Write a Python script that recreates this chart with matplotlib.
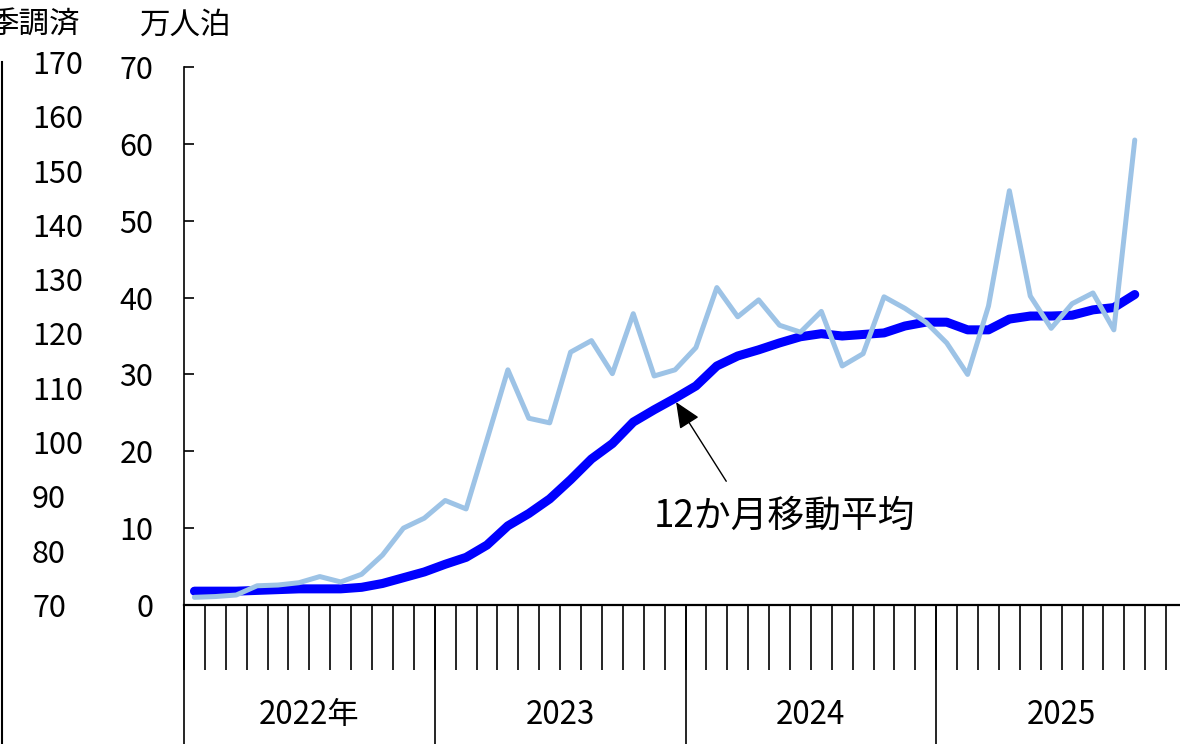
import numpy as np
import matplotlib
matplotlib.use('Agg')
import matplotlib.pyplot as plt
import matplotlib.transforms as mtransforms

plt.rcParams['font.family'] = ['Noto Sans CJK JP', 'DejaVu Sans']

# monthly, 万人泊, Jan 2022 - Oct 2025
monthly = [1.0, 1.1, 1.3, 2.5, 2.6, 2.9, 3.7, 3.0, 4.0, 6.5, 10.0, 11.3,
           13.6, 12.5, 21.5, 30.6, 24.3, 23.7, 32.9, 34.4, 30.1, 37.9, 29.8, 30.6,
           33.5, 41.3, 37.5, 39.7, 36.4, 35.5, 38.2, 31.1, 32.7, 40.1, 38.6, 36.8,
           34.1, 30.0, 38.9, 53.9, 40.2, 36.0, 39.2, 40.6, 35.8, 60.5]
# 12-month moving average
ma12 = [1.8, 1.8, 1.8, 1.9, 2.0, 2.1, 2.1, 2.1, 2.3, 2.8, 3.55, 4.3,
        5.3, 6.2, 7.8, 10.3, 11.9, 13.8, 16.3, 19.0, 21.0, 23.8, 25.4, 26.9,
        28.5, 31.1, 32.4, 33.2, 34.1, 34.9, 35.3, 35.0, 35.2, 35.4, 36.3, 36.8,
        36.8, 35.8, 35.8, 37.2, 37.6, 37.6, 37.7, 38.4, 38.7, 40.4]
years = ['2022年', '2023', '2024', '2025']
left_ticks = [70, 80, 90, 100, 110, 120, 130, 140, 150, 160, 170]

W, H = 1180, 744
fig = plt.figure(figsize=(W / 100, H / 100), dpi=100)
ax = fig.add_axes([184 / W, (H - 605) / H, (1187 - 184) / W, (605 - 67) / H])

x = np.arange(len(monthly)) + 0.5
ax.plot(x, ma12, color='#0000FF', lw=6.5, solid_capstyle='round', zorder=2)
ax.plot(x, monthly, color='#9DC3E6', lw=3.6, solid_capstyle='round', zorder=3)

ax.set_xlim(0, 48)
ax.set_ylim(0, 70)
for s in ['top', 'right']:
    ax.spines[s].set_visible(False)
ax.spines['left'].set_linewidth(1.2)
ax.spines['bottom'].set_linewidth(1.6)

ax.set_yticks(np.arange(0, 71, 10))
ax.tick_params(axis='y', direction='in', length=7, width=1.2, labelsize=22, pad=22)
ax.set_xticks(np.arange(0, 49))
ax.set_xticklabels([])
ax.tick_params(axis='x', direction='out', length=47, width=1.2)

# year separators and labels below the axis
trans = mtransforms.blended_transform_factory(ax.transData, ax.transAxes)
for k in range(len(years)):
    ax.plot([12 * k, 12 * k], [0, -0.26], transform=trans, color='k', lw=1.2, clip_on=False)
    ax.text(12 * k + 6, -0.205, years[k], transform=trans, ha='center', va='center', fontsize=22.5)

# annotation
ax.annotate('', xy=(23.55, 26.4), xytext=(25.95, 16.1),
            arrowprops=dict(arrowstyle='-|>,head_length=0.8,head_width=0.35', color='k', lw=1,
                            mutation_scale=20, shrinkA=0, shrinkB=0))
ax.text(28.75, 11.6, '12か月移動平均', ha='center', va='center', fontsize=26.5)

# unit labels
fig.text(186 / W, 1 - 25 / H, '万人泊', ha='center', va='center', fontsize=22)
fig.text(80 / W, 1 - 25 / H, '季調済', ha='right', va='center', fontsize=22)

# cut-off left axis (季調済)
ax2 = fig.add_axes([0.5 / W, 0, 1 / W, (H - 62) / H])
ax2.patch.set_visible(False)
ax2.set_ylim(44.4, 170)
ax2.set_xticks([])
for s in ['top', 'left', 'bottom']:
    ax2.spines[s].set_visible(False)
ax2.spines['right'].set_linewidth(1.5)
ax2.yaxis.tick_right()
ax2.set_yticks(left_ticks)
ax2.tick_params(axis='y', length=0, labelsize=22, pad=22)

fig.savefig('out.png', dpi=100)
